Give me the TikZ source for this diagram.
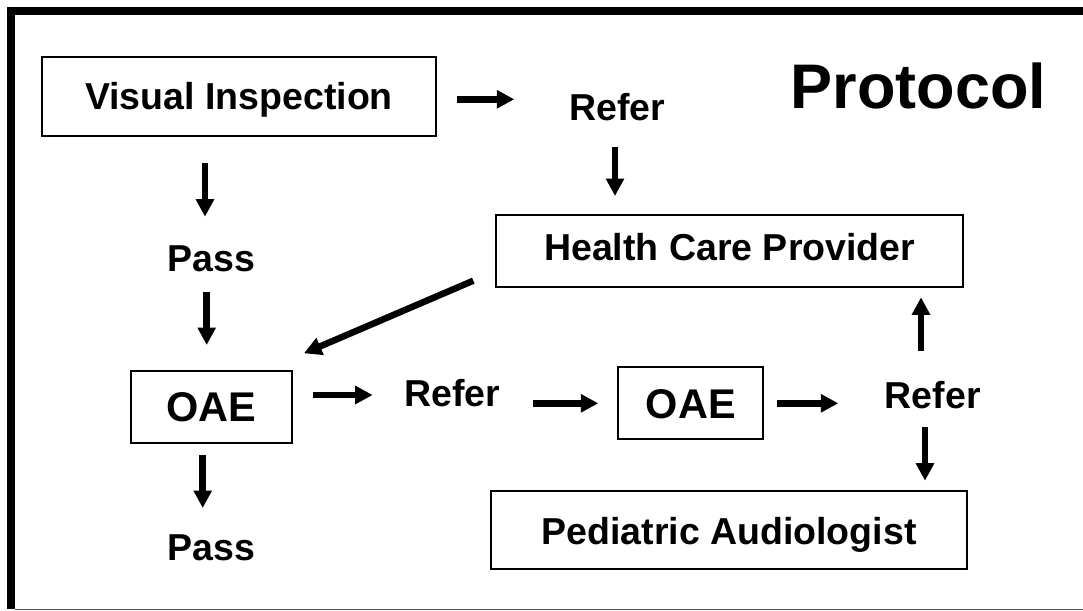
\documentclass[tikz,border=0pt]{standalone}
\usepackage{fontspec}
\setmainfont{Liberation Sans}
\usetikzlibrary{arrows.meta}
\tikzset{
  boxnode/.style={draw=black, line width=2pt, inner sep=0pt, font=\bfseries\fontsize{37.5}{40}\selectfont, text height=26.9pt, text depth=0pt},
  oaenode/.style={boxnode, font=\bfseries\fontsize{41.5}{44}\selectfont, text height=29.7pt},
  lbl/.style={inner sep=0pt, anchor=base, font=\bfseries\fontsize{37.5}{40}\selectfont},
  arr/.style={line width=6.5pt, -{Triangle[length=17.5pt,width=17.5pt]}},
}
\begin{document}
\begin{tikzpicture}[x=1pt,y=-1pt]
\useasboundingbox (0,0) rectangle (1083,610);
% frame
\draw[line width=8pt, line join=miter] (11,609) -- (11,11) -- (1090,11);
\draw[line width=1.5pt, black!70] (15,609.3) -- (1083,609.3);
% title
\node[lbl, font=\bfseries\fontsize{63}{66}\selectfont] (title) at (918.5,108) {Protocol};
% boxes
\node[boxnode, minimum width=393.4pt, minimum height=78.7pt] (vi) at (239,96.4) {Visual Inspection};
\node[boxnode, minimum width=467.3pt, minimum height=72pt, text depth=8.6pt] (hcp) at (729.7,251) {Health Care Provider};
\node[oaenode, minimum width=160.7pt, minimum height=72.6pt] (oae1) at (211.3,407) {OAE};
\node[oaenode, minimum width=145pt, minimum height=72pt] (oae2) at (690.8,403.3) {OAE};
\node[boxnode, minimum width=476.6pt, minimum height=78.6pt, text height=29.9pt] (pa) at (729,530) {Pediatric Audiologist};
% labels
\node[lbl] (refer1) at (617.5,120) {Refer};
\node[lbl] (pass1) at (211.7,271.7) {Pass};
\node[lbl] (refer2) at (452.5,406) {Refer};
\node[lbl] (refer3) at (932.7,408.3) {Refer};
\node[lbl] (pass2) at (211.3,560) {Pass};
% arrow ends
\coordinate (a1s) at (456.7,99.3);  \coordinate (a1e) at (514.3,99.3);
\coordinate (a2s) at (205,163.3);   \coordinate (a2e) at (205,216.7);
\coordinate (a3s) at (615,146.7);   \coordinate (a3e) at (615,196);
\coordinate (a4s) at (206.7,291.7); \coordinate (a4e) at (206.7,345);
\coordinate (a5s) at (473.3,280.7); \coordinate (a5e) at (304,353.3);
\coordinate (a6s) at (312.7,395);   \coordinate (a6e) at (372.7,395);
\coordinate (a7s) at (532.7,403.3); \coordinate (a7e) at (598.3,403.3);
\coordinate (a8s) at (777.3,403.3); \coordinate (a8e) at (838.3,403.3);
\coordinate (a9s) at (921,350.7);   \coordinate (a9e) at (921,297.3);
\coordinate (a10s) at (925,427.3);  \coordinate (a10e) at (925,480.7);
\coordinate (a11s) at (202.7,455);  \coordinate (a11e) at (202.7,508);
\draw[arr] (a1s) -- (a1e);
\draw[arr] (a2s) -- (a2e);
\draw[arr] (a3s) -- (a3e);
\draw[arr] (a4s) -- (a4e);
\draw[arr] (a5s) -- (a5e);
\draw[arr] (a6s) -- (a6e);
\draw[arr] (a7s) -- (a7e);
\draw[arr] (a8s) -- (a8e);
\draw[arr] (a9s) -- (a9e);
\draw[arr] (a10s) -- (a10e);
\draw[arr] (a11s) -- (a11e);
\end{tikzpicture}
\end{document}
